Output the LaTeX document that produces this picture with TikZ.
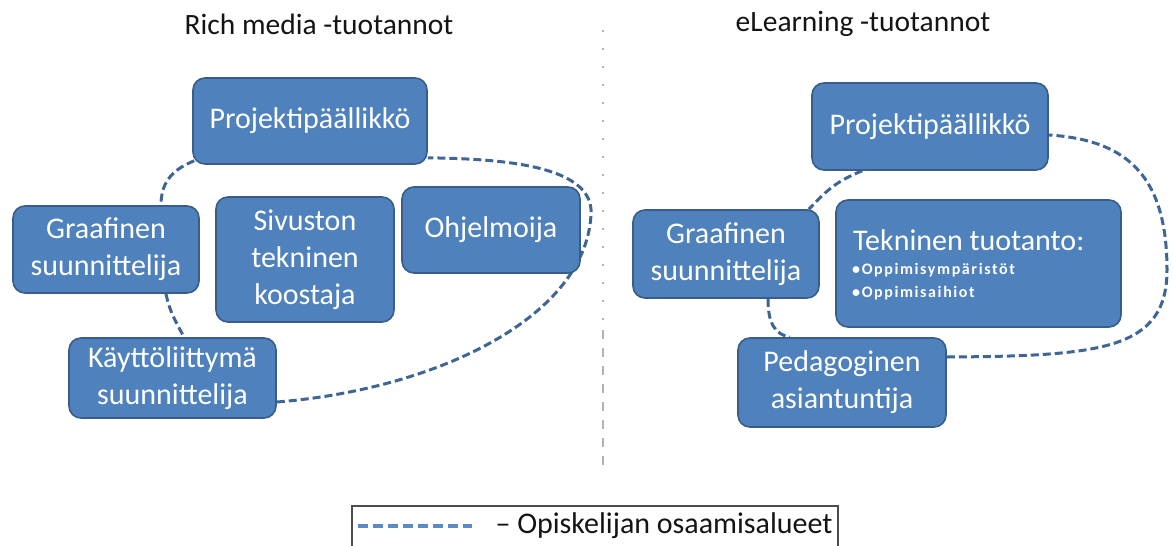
\documentclass[tikz,border=0pt]{standalone}
\usepackage{fontspec}
\setmainfont{Carlito}
\pgfdeclarelayer{background}
\pgfsetlayers{background,main}
\begin{document}
\begin{tikzpicture}[x=1pt,y=-1pt,
  role/.style={draw=boxedge,line width=1.6pt,fill=boxfill,rounded corners=12pt,
    text=white,align=center,font=\fontsize{30}{37}\selectfont,inner sep=0pt},
  skill/.style={draw=loopblue,line width=3pt,dash pattern=on 8pt off 4pt},
  title/.style={text=titlegray,font=\fontsize{29.5}{34}\selectfont}]
\definecolor{boxfill}{HTML}{4F81BD}
\definecolor{boxedge}{HTML}{385D8A}
\definecolor{loopblue}{HTML}{3E6596}
\definecolor{legendblue}{HTML}{5B8BC6}
\definecolor{titlegray}{HTML}{141414}
\useasboundingbox (0,0) rectangle (1173,546);

% column titles and divider
\node[title] (t1) at (319,24) {Rich media -tuotannot};
\node[title] (t2) at (863,24) {eLearning -tuotannot};
\draw[gray!60,line width=1.5pt,dash pattern=on 2pt off 16pt] (603,30) -- (603,330);
\draw[gray!60,line width=1.5pt,dash pattern=on 9pt off 9pt] (603,330) -- (603,465);

% Rich media team
\node[role,minimum width=234pt,minimum height=86pt] (p1) at (310,121) {Projektipäällikkö};
\node[role,minimum width=186pt,minimum height=87pt] (g1) at (106,249.5) {Graafinen\\suunnittelija};
\node[role,minimum width=178pt,minimum height=125pt] (s1) at (305,259.5) {Sivuston\\tekninen\\koostaja};
\node[role,minimum width=178pt,minimum height=86pt] (o1) at (491,230) {Ohjelmoija};
\node[role,minimum width=207pt,minimum height=80pt] (k1) at (172.5,378) {Käyttöliittymä\\suunnittelija};

% eLearning team
\node[role,minimum width=236pt,minimum height=87pt] (p2) at (930,126.5) {Projektipäällikkö};
\node[role,minimum width=186pt,minimum height=88pt] (g2) at (726,254) {Graafinen\\suunnittelija};
\node[role,minimum width=285pt,minimum height=127pt] (tt) at (978.5,263.5) {};
\node[role,minimum width=208pt,minimum height=89pt] (pa) at (842,382.5) {Pedagoginen\\asiantuntija};
\node[anchor=west,text=white,inner sep=0pt,font=\fontsize{30}{34}\selectfont] (ttt) at (853,240) {Tekninen tuotanto:};
\node[anchor=west,text=white,align=left,inner sep=0pt,
  font=\fontsize{16}{23.5}\selectfont\bfseries\addfontfeature{LetterSpace=10}] (ttl) at (852,281.5) {•Oppimisympäristöt\\•Oppimisaihiot};

% skill areas: dashed loops running behind the boxes
\coordinate (lr) at (591,215);
\coordinate (rr) at (1167,270);
\begin{pgfonlayer}{background}
\draw[skill] ([xshift=2pt,yshift=4pt]p1.south west) .. controls +(-25,10) and +(0,-20) .. ([xshift=55pt]g1.north);
\draw[skill] ([xshift=60pt]g1.south) .. controls +(4,20) and +(-6,-12) .. ([xshift=11.5pt]k1.north);
\draw[skill] ([yshift=-24pt]k1.east) .. controls +(154,-12) and +(-6,105) .. (lr)
   .. controls +(4,-50) and +(73,1) .. ([yshift=7pt]p1.south east);
\draw[skill] ([xshift=51pt]p2.south west) .. controls +(-30,12) and +(15,-15) .. ([xshift=-11pt]g2.north east);
\draw[skill] ([xshift=42pt]g2.south) .. controls +(0,25) and +(-15,-3) .. ([xshift=-52pt]pa.north);
\draw[skill] ([yshift=25.5pt]pa.east) .. controls +(154,-1) and +(0,80) .. (rr)
   .. controls +(0,-90) and +(82,5) .. ([yshift=-8.5pt]p2.east);
\end{pgfonlayer}

% legend
\draw[black!70,line width=2pt] (352,548) -- (352,506) -- (838,506) -- (838,548);
\coordinate (la) at (358,526);
\coordinate (lb) at (472,526);
\draw[legendblue,line width=3.5pt,dash pattern=on 10pt off 5pt] (la) -- (lb);
\node[anchor=west,text=titlegray,font=\fontsize{30}{34}\selectfont] (lt) at (492,526) {– Opiskelijan osaamisalueet};
\end{tikzpicture}
\end{document}
